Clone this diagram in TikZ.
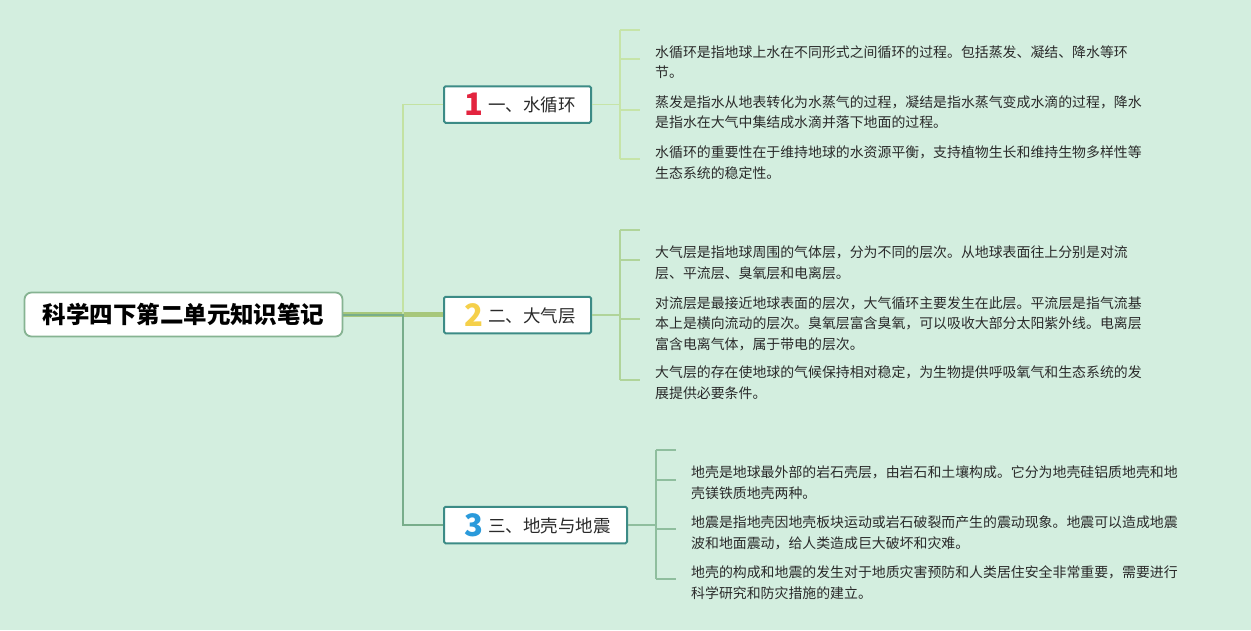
\documentclass[tikz,border=0pt]{standalone}
\usepackage{fontspec}
\usetikzlibrary{backgrounds}
\setmainfont{Noto Sans CJK SC}
\definecolor{bg}{HTML}{D3EEDF}
\definecolor{rootline}{HTML}{86B392}
\definecolor{boxline}{HTML}{3C8B86}
\definecolor{txt}{HTML}{2A2A2A}
\definecolor{numred}{HTML}{E3243F}
\definecolor{numyellow}{HTML}{F5D04A}
\definecolor{numblue}{HTML}{2A9ADB}
\definecolor{linea}{HTML}{C3E2A2}
\definecolor{lineb}{HTML}{A7C77B}
\definecolor{linec}{HTML}{78AD8B}
\definecolor{bra}{HTML}{C6E4A8}
\definecolor{brb}{HTML}{B0D49A}
\definecolor{brc}{HTML}{8FBE9E}
\newcommand\bignum[2]{\raisebox{-4pt}{\fontsize{31pt}{31pt}\selectfont\bfseries\color{#1}#2}}
\newcommand\topictext[3]{\makebox[#1][l]{\hspace{17pt}\makebox[25pt][c]{#2}\hspace{2pt}#3}}
\newcommand\noteblock[1]{\vtop{\fontsize{13.9pt}{20.5pt}\selectfont #1}}
\begin{document}
\begin{tikzpicture}[x=1pt,y=-1pt,
  rootbox/.style={draw=rootline, line width=1.8pt, fill=white, rounded corners=7pt,
    minimum width=318pt, minimum height=44pt, inner sep=0pt, text=black,
    font=\fontsize{23.5pt}{28pt}\selectfont\bfseries},
  topicbox/.style={draw=boxline, line width=2pt, fill=white, rounded corners=1.5pt,
    minimum height=36.5pt, inner sep=0pt, anchor=west, text=txt,
    font=\fontsize{17.5pt}{21pt}\selectfont},
  note/.style={anchor=base west, inner sep=0pt, text=txt},
  conna/.style={draw=linea, line width=1.6pt},
  connb/.style={draw=lineb, line width=5.5pt},
  connc/.style={draw=linec, line width=2pt},
  brka/.style={draw=bra, line width=1.5pt},
  brkb/.style={draw=brb, line width=1.5pt},
  brkc/.style={draw=brc, line width=1.5pt}
]
\node[rootbox] (root) at (183.5,314.5) {科学四下第二单元知识笔记};
\node[topicbox, minimum width=147pt] (b1) at (443,104.5)
  {\topictext{147pt}{\bignum{numred}{1}}{一、水循环}};
\node[topicbox, minimum width=147pt] (b2) at (443,315)
  {\topictext{147pt}{\bignum{numyellow}{2}}{二、大气层}};
\node[topicbox, minimum width=183pt] (b3) at (443,525)
  {\topictext{183pt}{\bignum{numblue}{3}}{三、地壳与地震}};
\coordinate (j) at (403,314.5);

\begin{scope}[on background layer]
\path[fill=bg] (0,0) rectangle (1251,630);
\draw[connb] (root.east) -- (root.east -| b2.west);
\draw[conna] (root.east) -- (j) |- (b1.west);
\draw[connc] (root.east) -- (j) |- (b3.west);
\end{scope}

% bracket 1
\coordinate (s1t) at (620,30);
\coordinate (s1b) at (620,159);
\coordinate (s1a) at (620,59);
\coordinate (s1c) at (620,110);
\draw[brka] (b1.east) -- (b1.east -| s1t);
\draw[brka] (s1t) -- (s1b);
\foreach \c in {s1t,s1a,s1c,s1b} \draw[brka] (\c) -- ++(20,0);

% bracket 2
\coordinate (s2t) at (620,230);
\coordinate (s2b) at (620,380);
\coordinate (s2a) at (620,260);
\coordinate (s2c) at (620,319);
\draw[brkb] (b2.east) -- (b2.east -| s2t);
\draw[brkb] (s2t) -- (s2b);
\foreach \c in {s2t,s2a,s2c,s2b} \draw[brkb] (\c) -- ++(20,0);

% bracket 3
\coordinate (s3t) at (656,450);
\coordinate (s3b) at (656,579);
\coordinate (s3a) at (656,480);
\coordinate (s3c) at (656,529);
\draw[brkc] (b3.east) -- (b3.east -| s3t);
\draw[brkc] (s3t) -- (s3b);
\foreach \c in {s3t,s3a,s3c,s3b} \draw[brkc] (\c) -- ++(20,0);

% notes
\node[note] (n1a) at (655,57) {\noteblock{\hbox{水循环是指地球上水在不同形式之间循环的过程。包括蒸发、凝结、降水等环}\hbox{节。}}};
\node[note] (n1b) at (655,107) {\noteblock{\hbox{蒸发是指水从地表转化为水蒸气的过程，凝结是指水蒸气变成水滴的过程，降水}\hbox{是指水在大气中集结成水滴并落下地面的过程。}}};
\node[note] (n1c) at (655,157.5) {\noteblock{\hbox{水循环的重要性在于维持地球的水资源平衡，支持植物生长和维持生物多样性等}\hbox{生态系统的稳定性。}}};

\node[note] (n2a) at (655,257.5) {\noteblock{\hbox{大气层是指地球周围的气体层，分为不同的层次。从地球表面往上分别是对流}\hbox{层、平流层、臭氧层和电离层。}}};
\node[note] (n2b) at (655,308) {\noteblock{\hbox{对流层是最接近地球表面的层次，大气循环主要发生在此层。平流层是指气流基}\hbox{本上是横向流动的层次。臭氧层富含臭氧，可以吸收大部分太阳紫外线。电离层}\hbox{富含电离气体，属于带电的层次。}}};
\node[note] (n2c) at (655,377.5) {\noteblock{\hbox{大气层的存在使地球的气候保持相对稳定，为生物提供呼吸氧气和生态系统的发}\hbox{展提供必要条件。}}};

\node[note] (n3a) at (691,477.5) {\noteblock{\hbox{地壳是地球最外部的岩石壳层，由岩石和土壤构成。它分为地壳硅铝质地壳和地}\hbox{壳镁铁质地壳两种。}}};
\node[note] (n3b) at (691,527.5) {\noteblock{\hbox{地震是指地壳因地壳板块运动或岩石破裂而产生的震动现象。地震可以造成地震}\hbox{波和地面震动，给人类造成巨大破坏和灾难。}}};
\node[note] (n3c) at (691,577.5) {\noteblock{\hbox{地壳的构成和地震的发生对于地质灾害预防和人类居住安全非常重要，需要进行}\hbox{科学研究和防灾措施的建立。}}};
\end{tikzpicture}
\end{document}
